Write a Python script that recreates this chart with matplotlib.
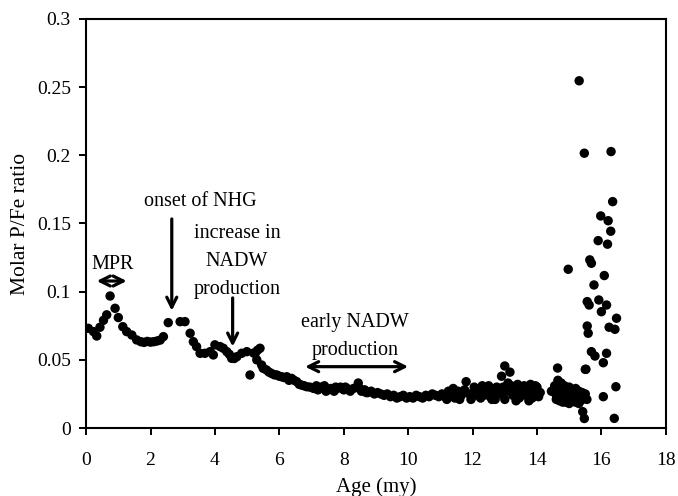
import matplotlib
matplotlib.use("Agg")
import matplotlib.pyplot as plt
from matplotlib.ticker import FuncFormatter

plt.rcParams['font.family'] = ['Liberation Serif', 'DejaVu Serif']

# age (my) and molar P/Fe, youngest part of the record
age_young = [0.07, 0.23, 0.33, 0.43, 0.54, 0.64, 0.745, 0.9, 1.0, 1.14, 1.26, 1.42,
             1.57, 1.7, 1.8, 1.9, 2.0, 2.1, 2.2, 2.3, 2.4, 2.55, 2.92, 3.07, 3.23,
             3.33, 3.43, 3.54, 3.69, 3.85, 3.95, 4.0, 4.16, 4.26, 4.37, 4.45, 4.52,
             4.6, 4.68, 4.83, 4.99, 5.09, 5.2, 5.25, 5.32, 5.4, 5.3, 5.45, 5.5, 5.6,
             5.68, 5.76, 5.85, 5.92, 6.0, 6.07, 6.15, 6.23, 6.3, 6.38, 6.46, 6.54,
             6.62, 6.69, 6.77, 6.85, 6.95, 7.06]
pfe_young = [0.0731, 0.0707, 0.0675, 0.0739, 0.079, 0.083, 0.0968, 0.0878, 0.081,
             0.0743, 0.0707, 0.0682, 0.0646, 0.0633, 0.0628, 0.0635, 0.063, 0.0633,
             0.0638, 0.0645, 0.067, 0.0773, 0.078, 0.078, 0.0695, 0.0633, 0.0597,
             0.0548, 0.0548, 0.056, 0.0536, 0.061, 0.0597, 0.0585, 0.056, 0.054,
             0.0511, 0.051, 0.0523, 0.0548, 0.056, 0.0389, 0.055, 0.0548, 0.057,
             0.0585, 0.05, 0.0462, 0.0438, 0.0426, 0.041, 0.040, 0.039, 0.0389,
             0.038, 0.0376, 0.037, 0.0376, 0.035, 0.0364, 0.035, 0.034, 0.032,
             0.0315, 0.031, 0.0303, 0.030, 0.0291]

# middle Miocene to Pliocene plateau
age_mid = [7.1, 7.2, 7.3, 7.4, 7.5, 7.6, 7.7, 7.8, 7.9, 8.0, 8.1, 8.2, 8.3, 8.45,
           8.55, 8.65, 8.75, 8.85, 8.95, 7.15, 7.45, 7.75, 8.05, 8.5, 8.7,
           9.05, 9.15, 9.25, 9.35, 9.45, 9.55, 9.65, 9.75, 9.85, 9.95, 10.05, 10.15,
           10.25, 10.35, 10.45, 10.55, 10.65, 10.75, 10.85, 10.95,
           11.05, 11.15, 11.25, 11.35, 11.45, 11.55, 11.65, 11.75, 11.8, 11.9, 12.0,
           12.1, 12.2, 12.3, 12.35, 12.45, 12.55, 12.65, 12.75, 12.85,
           11.2, 11.6, 12.05, 12.5, 12.7, 11.4, 11.95, 12.25, 12.6,
           12.9, 12.95, 13.0, 13.05, 13.1, 13.16, 13.2, 13.3, 13.4, 13.5, 13.6, 13.7,
           13.8, 13.9, 14.0, 14.1, 13.25, 13.45, 13.65, 13.85, 14.05, 13.0, 13.35,
           13.75, 13.55, 13.95]
pfe_mid = [0.029, 0.028, 0.030, 0.031, 0.028, 0.029, 0.027, 0.029, 0.030, 0.028,
           0.029, 0.027, 0.029, 0.033, 0.027, 0.028, 0.026, 0.027, 0.025, 0.031,
           0.027, 0.030, 0.030, 0.029, 0.026,
           0.026, 0.025, 0.024, 0.025, 0.023, 0.024, 0.022, 0.023, 0.024, 0.022,
           0.023, 0.022, 0.024, 0.023, 0.022, 0.024, 0.023, 0.025, 0.024, 0.023,
           0.025, 0.023, 0.027, 0.024, 0.022, 0.027, 0.024, 0.028, 0.034, 0.025,
           0.023, 0.027, 0.028, 0.031, 0.024, 0.028, 0.023, 0.027, 0.030, 0.025,
           0.021, 0.021, 0.030, 0.031, 0.021, 0.029, 0.021, 0.022, 0.021,
           0.038, 0.030, 0.0455, 0.027, 0.033, 0.041, 0.031, 0.028, 0.032, 0.027,
           0.031, 0.028, 0.032, 0.027, 0.030, 0.026, 0.024, 0.022, 0.024, 0.022,
           0.023, 0.021, 0.020, 0.020, 0.029, 0.031]

# oldest section, scattered values
age_old = [14.45, 14.55, 14.6, 14.64, 14.65, 14.7, 14.75, 14.8, 14.85, 14.9, 14.95,
           15.0, 15.05, 15.1, 15.15, 15.2, 15.25, 15.3, 15.35, 15.4, 15.45, 15.5,
           15.55, 14.6, 14.7, 14.8, 14.9, 15.0, 15.1, 15.2, 15.3, 15.4, 15.42,
           15.47, 15.5,
           15.31, 15.47, 16.3, 16.35, 15.98, 16.21, 16.29, 15.9, 16.19, 14.97, 15.64,
           15.69, 16.09, 15.77, 15.56, 15.62, 15.92, 16.0, 16.16, 16.47, 16.24,
           16.42, 15.56, 15.59, 15.69, 15.8, 16.06, 16.16, 15.52, 16.45, 16.06,
           16.4]
pfe_old = [0.027, 0.031, 0.024, 0.044, 0.035, 0.029, 0.033, 0.025, 0.031, 0.027,
           0.022, 0.030, 0.024, 0.028, 0.021, 0.029, 0.023, 0.027, 0.020, 0.026,
           0.022, 0.025, 0.021, 0.021, 0.020, 0.019, 0.019, 0.018, 0.020, 0.019,
           0.018, 0.021, 0.012, 0.007, 0.043,
           0.2546, 0.2015, 0.2027, 0.166, 0.1555, 0.152, 0.1443, 0.1374, 0.1348,
           0.1164, 0.1233, 0.1208, 0.1118, 0.1049, 0.0927, 0.0902, 0.0939, 0.0853,
           0.0902, 0.0805, 0.0739, 0.0724, 0.0748, 0.0695, 0.056, 0.0528, 0.0479,
           0.0548, 0.0431, 0.0303, 0.023, 0.0071]

fig = plt.figure(figsize=(6.78, 4.96), dpi=100)
ax = fig.add_axes([0.127, 0.137, 0.855, 0.825])

for a, p in [(age_young, pfe_young), (age_mid, pfe_mid), (age_old, pfe_old)]:
    ax.scatter(a, p, s=46, c='black', edgecolors='none', zorder=3)

ax.set_xlim(0, 18)
ax.set_ylim(0, 0.3)
ax.set_xticks(range(0, 19, 2))
ax.set_yticks([0, 0.05, 0.1, 0.15, 0.2, 0.25, 0.3])
ax.yaxis.set_major_formatter(FuncFormatter(lambda v, _: f"{v:g}"))
ax.tick_params(direction='out', length=5, width=1.4, labelsize=14, pad=6)
ax.tick_params(axis='x', pad=12)
for sp in ax.spines.values():
    sp.set_linewidth(1.5)

ax.set_xlabel('Age (my)', fontsize=15, labelpad=6)
ax.set_ylabel('Molar P/Fe ratio', fontsize=15.5, labelpad=5)

arrow_kw = dict(arrowstyle='->', lw=2.3, color='black',
                shrinkA=0, shrinkB=0, mutation_scale=18)
both_kw = dict(arrowstyle='<->', lw=2.3, color='black',
               shrinkA=0, shrinkB=0, mutation_scale=18)

ax.text(0.84, 0.1196, 'MPR', fontsize=14.5, ha='center', va='center')
ax.annotate('', xy=(0.33, 0.1078), xytext=(1.26, 0.1078), arrowprops=both_kw)

ax.text(3.54, 0.166, 'onset of NHG', fontsize=14.5, ha='center', va='center')
ax.annotate('', xy=(2.66, 0.086), xytext=(2.66, 0.1533), arrowprops=arrow_kw)

ax.text(4.68, 0.122, 'increase in\nNADW\nproduction', fontsize=14.5,
        ha='center', va='center', linespacing=1.65)
ax.annotate('', xy=(4.55, 0.0597), xytext=(4.55, 0.0954), arrowprops=arrow_kw)

ax.text(8.35, 0.067, 'early NADW\nproduction', fontsize=14.5,
        ha='center', va='center', linespacing=1.65)
ax.annotate('', xy=(6.8, 0.045), xytext=(10.0, 0.045), arrowprops=both_kw)

fig.savefig('out.png', dpi=100)
